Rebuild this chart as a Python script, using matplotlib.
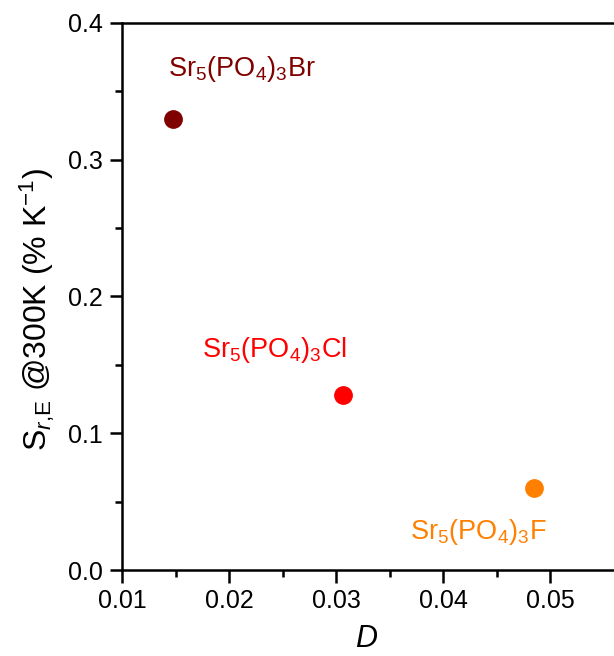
import matplotlib
matplotlib.use('Agg')
import matplotlib.pyplot as plt
from matplotlib.ticker import MultipleLocator, FixedLocator

plt.rcParams['font.family'] = ['Liberation Sans', 'DejaVu Sans']
plt.rcParams['mathtext.fontset'] = 'custom'
plt.rcParams['mathtext.rm'] = 'Liberation Sans'
plt.rcParams['mathtext.it'] = 'Liberation Sans:italic'
plt.rcParams['mathtext.default'] = 'regular'

# data
names = [r'Sr$_5$(PO$_4$)$_3$Br', r'Sr$_5$(PO$_4$)$_3$Cl', r'Sr$_5$(PO$_4$)$_3$F']
D = [0.0148, 0.0307, 0.0485]
S = [0.330, 0.128, 0.060]
colors = ['#800000', '#FF0000', '#FF8000']
label_xy = [(0.0143, 0.3612), (0.0175, 0.1558), (0.0369, 0.0227)]

fig = plt.figure(figsize=(6.14, 6.56), dpi=100)
ax = fig.add_axes([122 / 614, 86 / 656, 1 - 122 / 614, 547 / 656])

for d, s, c, name, (lx, ly) in zip(D, S, colors, names, label_xy):
    ax.plot(d, s, 'o', color=c, markersize=12.5, zorder=3)
    ax.text(lx, ly, name, color=c, fontsize=19.5, ha='left', va='baseline')

ax.set_xlim(0.01, 0.01 + 492 / 107 * 0.01)
ax.set_ylim(0.0, 0.4)
ax.xaxis.set_major_locator(MultipleLocator(0.01))
ax.xaxis.set_minor_locator(FixedLocator([0.015, 0.025, 0.035, 0.045]))
ax.yaxis.set_major_locator(MultipleLocator(0.1))
ax.yaxis.set_minor_locator(FixedLocator([0.05, 0.15, 0.25, 0.35]))
ax.xaxis.set_major_formatter(plt.FormatStrFormatter('%.2f'))
ax.yaxis.set_major_formatter(plt.FormatStrFormatter('%.1f'))

ax.spines['right'].set_visible(False)
for sp in ['left', 'bottom', 'top']:
    ax.spines[sp].set_linewidth(1.8)
ax.tick_params(which='major', direction='out', length=9, width=1.8, labelsize=18, pad=5)
ax.tick_params(which='minor', direction='out', length=5, width=1.8)
ax.tick_params(top=False, right=False)

ax.set_xlabel('D', fontsize=22, fontstyle='italic')
ax.xaxis.set_label_coords((366 - 122) / 492, -(654 - 570) / 547)
ax.xaxis.label.set_va('bottom')
ax.set_ylabel(r'S$_{\mathit{r}{,}\mathrm{E}}$ @300K (% K$^{-1}$)', fontsize=23)
ax.yaxis.set_label_coords(-(122 - 37) / 492, 1 - (310 - 23) / 547)
ax.yaxis.label.set_va('center')

fig.savefig('out.png', dpi=100)
